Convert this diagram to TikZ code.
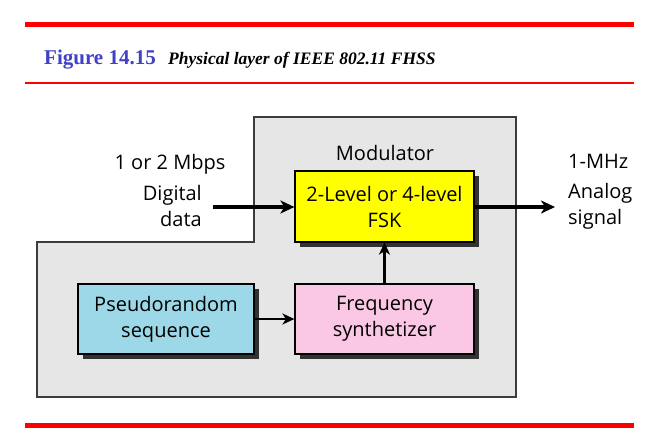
\documentclass[tikz,border=0pt]{standalone}
\usepackage{fontspec}
\setmainfont{Liberation Serif}
\newfontfamily\diagfont{Open Sans}
\usetikzlibrary{arrows.meta}
\definecolor{figblue}{RGB}{64,64,200}
\definecolor{regiongray}{RGB}{230,230,230}
\definecolor{edgegray}{RGB}{60,60,60}
\definecolor{yellowbox}{RGB}{255,255,0}
\definecolor{pinkbox}{RGB}{250,200,228}
\definecolor{bluebox}{RGB}{156,216,232}
\definecolor{shadowgray}{RGB}{50,50,50}
\tikzset{
  redrule/.style={draw=red, line width=#1},
  boxnode/.style={draw=black, line width=1.2pt, minimum width=179pt, minimum height=71pt, align=center, inner sep=0pt, font=\diagfont\fontsize{20}{26}\selectfont},
  lbl/.style={font=\diagfont\fontsize{20}{26}\selectfont, inner sep=0pt},
  bigarrow/.style={line width=3.5pt, -{Stealth[length=14pt,width=13pt,inset=4pt]}},
  smallarrow/.style={line width=2.2pt, -{Stealth[length=12pt,width=11pt,inset=3.5pt]}},
}
\begin{document}
\begin{tikzpicture}[x=1pt,y=-1pt]
\useasboundingbox (0,0) rectangle (664,437);
\fill[white] (0,0) rectangle (664,437);
% header rules
\draw[redrule=5pt] (25,24.5) -- (634,24.5);
\draw[redrule=2pt] (25,83) -- (634,83);
\draw[redrule=5pt] (25,425) -- (634,425);
% title
\node[anchor=base west, inner sep=0pt, text=figblue, font=\bfseries\fontsize{21}{24}\selectfont] (figno) at (44,64) {Figure 14.15};
\node[anchor=base west, inner sep=0pt, font=\bfseries\itshape\fontsize{17.5}{20}\selectfont] (figtitle) at (168,64) {Physical layer of IEEE 802.11 FHSS};
% gray region
\draw[fill=regiongray, draw=edgegray, line width=1.5pt]
  (254,117) -- (516,117) -- (516,397) -- (37,397) -- (37,242) -- (254,242) -- cycle;
% shadows
\fill[shadowgray] (300,176) rectangle (479,247);
\fill[shadowgray] (300,289) rectangle (479,359);
\fill[shadowgray] (83,289) rectangle (259,359);
% boxes
\node[boxnode, fill=yellowbox] (fsk) at (384.5,206.5) {2-Level or 4-level\\FSK};
\node[boxnode, fill=pinkbox, minimum height=70pt] (synth) at (384.5,319) {Frequency\\synthetizer};
\node[boxnode, fill=bluebox, minimum width=176pt, minimum height=70pt] (pseudo) at (166,319) {Pseudorandom\\sequence};
% labels
\node[lbl, anchor=base] (modlbl) at (385,160) {Modulator};
\node[lbl, anchor=base] (rate) at (170,169) {1 or 2 Mbps};
\node[lbl, align=right, anchor=east] (digital) at (202,206) {Digital\\data};
\node[lbl, anchor=base west] (mhz) at (568,168) {1-MHz};
\node[lbl, align=left, anchor=west] (analog) at (568,206) {Analog\\signal};
\coordinate (inpt) at (213,207);
\coordinate (outpt) at (555,207);
% arrows
\draw[bigarrow] (inpt) -- (fsk.west |- inpt);
\draw[bigarrow] (fsk.east |- outpt) -- (outpt);
\draw[smallarrow] (synth.north) -- (fsk.south);
\draw[smallarrow] (pseudo.east) -- (synth.west);
\end{tikzpicture}
\end{document}
